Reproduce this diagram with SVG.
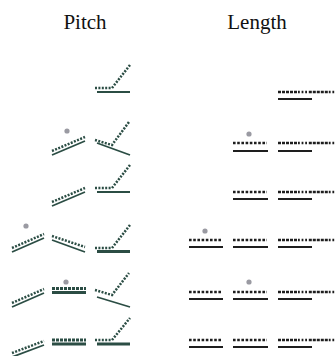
<svg xmlns="http://www.w3.org/2000/svg" width="335" height="356" viewBox="0 0 335 356">
<style>
.t{font-family:"Liberation Serif","Times New Roman",serif;font-size:21px;fill:#111;text-anchor:middle}
.pd{fill:none;stroke:#2b4d44;stroke-width:2.5;stroke-dasharray:2 1.4}
.pdt{fill:none;stroke:#2b4d44;stroke-width:3;stroke-dasharray:3 1}
.ps{fill:none;stroke:#2b4d44;stroke-width:1.8}
.pst{fill:none;stroke:#2b4d44;stroke-width:3}
.ld{fill:none;stroke:#1e1e1e;stroke-width:2.6;stroke-dasharray:2.6 1.6}
.ldc{fill:none;stroke:#1e1e1e;stroke-width:2.6;stroke-dasharray:3 1 3 1 3 1 3 1 3 1 1.8 1.8 1.8 1.8 1.8 1.8}
.ls{fill:none;stroke:#1e1e1e;stroke-width:2}
.dot{fill:#9a9aa2}
</style>
<text class="t" x="85" y="29">Pitch</text>
<text class="t" x="257" y="29">Length</text>
<g id="connectors"></g>
<g id="pitch-r1c">
<path class="pd" d="M95,88 L112,88 L130,65"/><path class="ps" d="M97,92 L130,92"/></g>
<g id="pitch-r2b">
<circle class="dot" cx="67" cy="131" r="2.6"/>
<path class="pd" d="M52,151 L85,137"/><path class="ps" d="M52,155 L85,141"/></g>
<g id="pitch-r2c">
<path class="pd" d="M95,140 L112,145 L129,122"/><path class="ps" d="M97,143 L130,155"/></g>
<g id="pitch-r3b">
<path class="pd" d="M52,202 L85,188"/><path class="ps" d="M52,206 L85,192"/></g>
<g id="pitch-r3c">
<path class="pd" d="M95,188 L112,188 L130,165"/><path class="ps" d="M97,192 L130,192"/></g>
<g id="pitch-r4a">
<circle class="dot" cx="26" cy="226" r="2.6"/>
<path class="pd" d="M12,248 L44,234"/><path class="ps" d="M12,252 L44,238"/></g>
<g id="pitch-r4b">
<path class="pd" d="M52,236 L85,247"/><path class="ps" d="M52,240 L85,252"/></g>
<g id="pitch-r4c">
<path class="pd" d="M95,248 L112,248 L130,225"/><path class="pst" d="M97,251.5 L130,251.5"/></g>
<g id="pitch-r5a">
<path class="pd" d="M12,303 L44,289"/><path class="ps" d="M12,307 L44,293"/></g>
<g id="pitch-r5b">
<circle class="dot" cx="66" cy="282" r="2.6"/>
<path class="pdt" d="M52,288.5 L86,288.5"/><path class="pst" d="M52,292.5 L86,292.5"/></g>
<g id="pitch-r5c">
<path class="pd" d="M95,290 L112,295 L129,273"/><path class="ps" d="M97,297 L130,307"/></g>
<g id="pitch-r6a">
<path class="pd" d="M12,353 L44,341"/><path class="ps" d="M12,357 L44,345"/></g>
<g id="pitch-r6b">
<path class="pdt" d="M52,340 L86,340"/><path class="pst" d="M52,344 L86,344"/></g>
<g id="pitch-r6c">
<path class="pd" d="M95,340 L112,340 L130,318"/><path class="pst" d="M97,344 L130,344"/></g>
<g id="length-r1c">
<path class="ldc" d="M278,92 L340,92"/><path class="ls" d="M278,99 L312,99"/></g>
<g id="length-r2b">
<circle class="dot" cx="249" cy="134" r="2.6"/>
<path class="ld" d="M233,143 L267,143"/><path class="ls" d="M233,151 L268,151"/></g>
<g id="length-r2c">
<path class="ldc" d="M278,143 L340,143"/><path class="ls" d="M278,151 L312,151"/></g>
<g id="length-r3b">
<path class="ld" d="M233,192 L267,192"/><path class="ls" d="M233,199 L268,199"/></g>
<g id="length-r3c">
<path class="ldc" d="M278,192 L340,192"/><path class="ls" d="M278,199 L312,199"/></g>
<g id="length-r4a">
<circle class="dot" cx="205" cy="231" r="2.6"/>
<path class="ld" d="M189,240 L222,240"/><path class="ls" d="M189,247 L223,247"/></g>
<g id="length-r4b">
<path class="ld" d="M233,240 L267,240"/><path class="ls" d="M233,247 L268,247"/></g>
<g id="length-r4c">
<path class="ldc" d="M278,240 L340,240"/><path class="ls" d="M278,247 L312,247"/></g>
<g id="length-r5a">
<path class="ld" d="M189,292 L222,292"/><path class="ls" d="M189,299 L223,299"/></g>
<g id="length-r5b">
<circle class="dot" cx="249" cy="282" r="2.6"/>
<path class="ld" d="M233,292 L267,292"/><path class="ls" d="M233,299 L268,299"/></g>
<g id="length-r5c">
<path class="ldc" d="M278,292 L340,292"/><path class="ls" d="M278,299 L312,299"/></g>
<g id="length-r6a">
<path class="ld" d="M189,340 L222,340"/><path class="ls" d="M189,347 L223,347"/></g>
<g id="length-r6b">
<path class="ld" d="M233,340 L267,340"/><path class="ls" d="M233,347 L268,347"/></g>
<g id="length-r6c">
<path class="ldc" d="M278,340 L340,340"/><path class="ls" d="M278,347 L312,347"/></g>
</svg>
